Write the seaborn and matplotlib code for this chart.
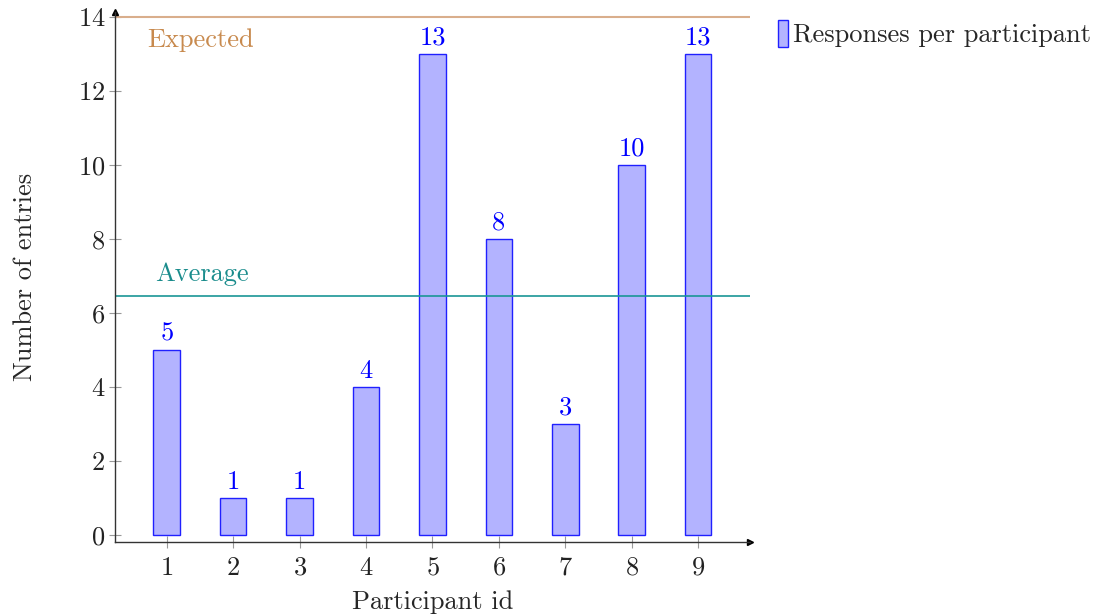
import numpy as np
import pandas as pd
import seaborn as sns
import matplotlib.pyplot as plt

participant_ids = [1, 2, 3, 4, 5, 6, 7, 8, 9]
responses = [5, 1, 1, 4, 13, 8, 3, 10, 13]
expected = 14
average = np.mean(responses)

sns.set_theme(style="white")
plt.rcParams['font.family'] = ['cmr10', 'DejaVu Serif']
plt.rcParams['axes.formatter.use_mathtext'] = True

fs = 19

df = pd.DataFrame({"participant": participant_ids, "entries": responses})

fig = plt.figure(figsize=(10.99, 6.16), dpi=100)
ax = fig.add_axes([0.1046, 0.1201, 0.5778, 0.8604])

sns.barplot(data=df, x="participant", y="entries", native_scale=True, width=0.4,
            color="#b3b3ff", saturation=1, edgecolor="#2020ff", linewidth=1,
            label="Responses per participant", ax=ax)
ax.bar_label(ax.containers[0], color="blue", fontsize=fs, padding=3)

# reference lines
ax.axhline(expected, color="#d9ae8c", linewidth=1.5)
ax.axhline(average, color="#1a9696", linewidth=1.2)
ax.text(0.7, 13.38, "Expected", color="#c88a4e", fontsize=fs, va="center", ha="left")
ax.text(0.82, 7.05, "Average", color="#1a8c8c", fontsize=fs, va="center", ha="left")

ax.set_xlim(0.22, 9.78)
ax.set_ylim(-0.19, 14.13)
ax.set_xticks(participant_ids)
ax.set_yticks(range(0, 15, 2))
ax.tick_params(axis="both", direction="inout", length=8, width=0.8, color="#999999",
               labelsize=fs, labelcolor="#222222", bottom=True, left=True, pad=3)
ax.tick_params(axis="x", pad=6)

for s in ["top", "right"]:
    ax.spines[s].set_visible(False)
for s in ["left", "bottom"]:
    ax.spines[s].set_color("#333333")
    ax.spines[s].set_linewidth(1.0)
ax.plot(1, 0, ">", color="black", markersize=5, transform=ax.transAxes, clip_on=False)
ax.plot(0, 1, "^", color="black", markersize=5, transform=ax.transAxes, clip_on=False)

ax.set_xlabel("Participant id", fontsize=fs, labelpad=8)
ax.set_ylabel("Number of entries", fontsize=fs, labelpad=29)

ax.legend(loc="upper left", bbox_to_anchor=(1.027, 1.005), frameon=False, fontsize=fs,
          handlelength=0.4, handleheight=1.2, handletextpad=0.2, borderaxespad=0)

fig.savefig("out.png", dpi=100)
